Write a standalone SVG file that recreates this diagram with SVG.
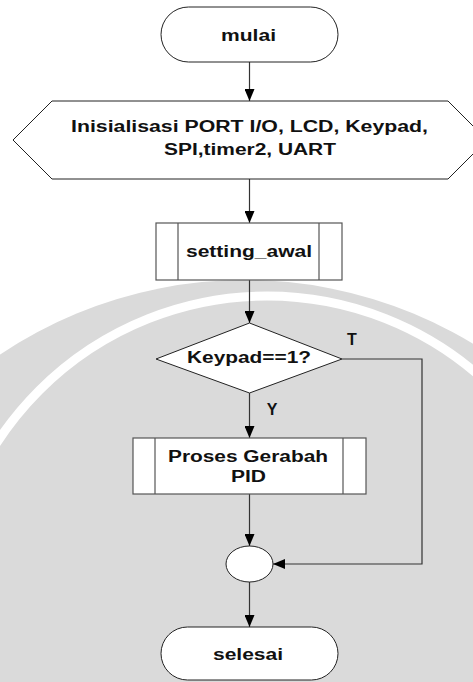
<svg xmlns="http://www.w3.org/2000/svg" width="473" height="682" viewBox="0 0 473 682">
  <style>
    .shape { fill: #ffffff; stroke: #222222; stroke-width: 1; }
    .box { fill: #ffffff; stroke: #555555; stroke-width: 1.2; }
    .inner { stroke: #555555; stroke-width: 1.2; fill: none; }
    .link { fill: none; stroke: #333333; stroke-width: 1.2; }
    .lbl { font-family: "Liberation Sans", Arial, sans-serif; font-weight: bold; font-size: 16px; fill: #111111; text-anchor: middle; }
  </style>
  <defs>
    <marker id="arrow" viewBox="0 0 12 10" refX="12" refY="5" markerWidth="12" markerHeight="10" markerUnits="userSpaceOnUse" orient="auto">
      <path d="M0,0 L12,5 L0,10 z" fill="#000000"/>
    </marker>
  </defs>

  <!-- backdrop -->
  <g id="backdrop">
    <rect x="0" y="0" width="473" height="682" fill="#ffffff"/>
    <circle cx="245" cy="720" r="440" fill="#dadada"/>
    <circle cx="267" cy="618" r="322" fill="none" stroke="#ffffff" stroke-width="9"/>
  </g>

  <!-- connectors -->
  <g id="connectors">
    <line class="link" x1="249.5" y1="62" x2="249.5" y2="101" marker-end="url(#arrow)"/>
    <line class="link" x1="249.5" y1="179" x2="249.5" y2="223" marker-end="url(#arrow)"/>
    <line class="link" x1="249.5" y1="280" x2="249.5" y2="323" marker-end="url(#arrow)"/>
    <line class="link" x1="249.5" y1="393" x2="249.5" y2="438" marker-end="url(#arrow)"/>
    <line class="link" x1="249.5" y1="494" x2="249.5" y2="546" marker-end="url(#arrow)"/>
    <polyline class="link" points="342,359 422,359 422,564 273,564" marker-end="url(#arrow)"/>
    <line class="link" x1="249.5" y1="582" x2="249.5" y2="627" marker-end="url(#arrow)"/>
    <text class="lbl" x="352" y="345">T</text>
    <text class="lbl" x="272" y="415">Y</text>
  </g>

  <g id="mulai">
    <rect class="shape" x="161" y="7" width="177" height="55" rx="27.5" ry="27.5"/>
    <text class="lbl" x="248.5" y="41" textLength="55" lengthAdjust="spacingAndGlyphs">mulai</text>
  </g>

  <g id="inisialisasi">
    <polygon class="shape" points="52,101 448,101 487,140 448,179 52,179 13,140"/>
    <text class="lbl" x="249.5" y="132" textLength="357" lengthAdjust="spacingAndGlyphs">Inisialisasi PORT I/O, LCD, Keypad,</text>
    <text class="lbl" x="250" y="155" textLength="172" lengthAdjust="spacingAndGlyphs">SPI,timer2, UART</text>
  </g>

  <g id="setting_awal">
    <rect class="box" x="156" y="223" width="186" height="57"/>
    <line class="inner" x1="178" y1="223" x2="178" y2="280"/>
    <line class="inner" x1="319" y1="223" x2="319" y2="280"/>
    <text class="lbl" x="249" y="257" textLength="126" lengthAdjust="spacingAndGlyphs">setting_awal</text>
  </g>

  <g id="keypad">
    <polygon class="shape" points="249.5,323 342,359 249.5,393 156,359"/>
    <text class="lbl" x="249" y="363" textLength="124" lengthAdjust="spacingAndGlyphs">Keypad==1?</text>
  </g>

  <g id="proses">
    <rect class="box" x="133" y="438" width="233" height="56"/>
    <line class="inner" x1="155" y1="438" x2="155" y2="494"/>
    <line class="inner" x1="343" y1="438" x2="343" y2="494"/>
    <text class="lbl" x="248" y="462" textLength="160" lengthAdjust="spacingAndGlyphs">Proses Gerabah</text>
    <text class="lbl" x="248.5" y="482" textLength="35" lengthAdjust="spacingAndGlyphs">PID</text>
  </g>

  <g id="junction">
    <ellipse class="shape" cx="249.5" cy="564" rx="23.5" ry="18"/>
  </g>

  <g id="selesai">
    <rect class="shape" x="161" y="627" width="177" height="53" rx="26.5" ry="26.5"/>
    <text class="lbl" x="248" y="660" textLength="70" lengthAdjust="spacingAndGlyphs">selesai</text>
  </g>
</svg>
